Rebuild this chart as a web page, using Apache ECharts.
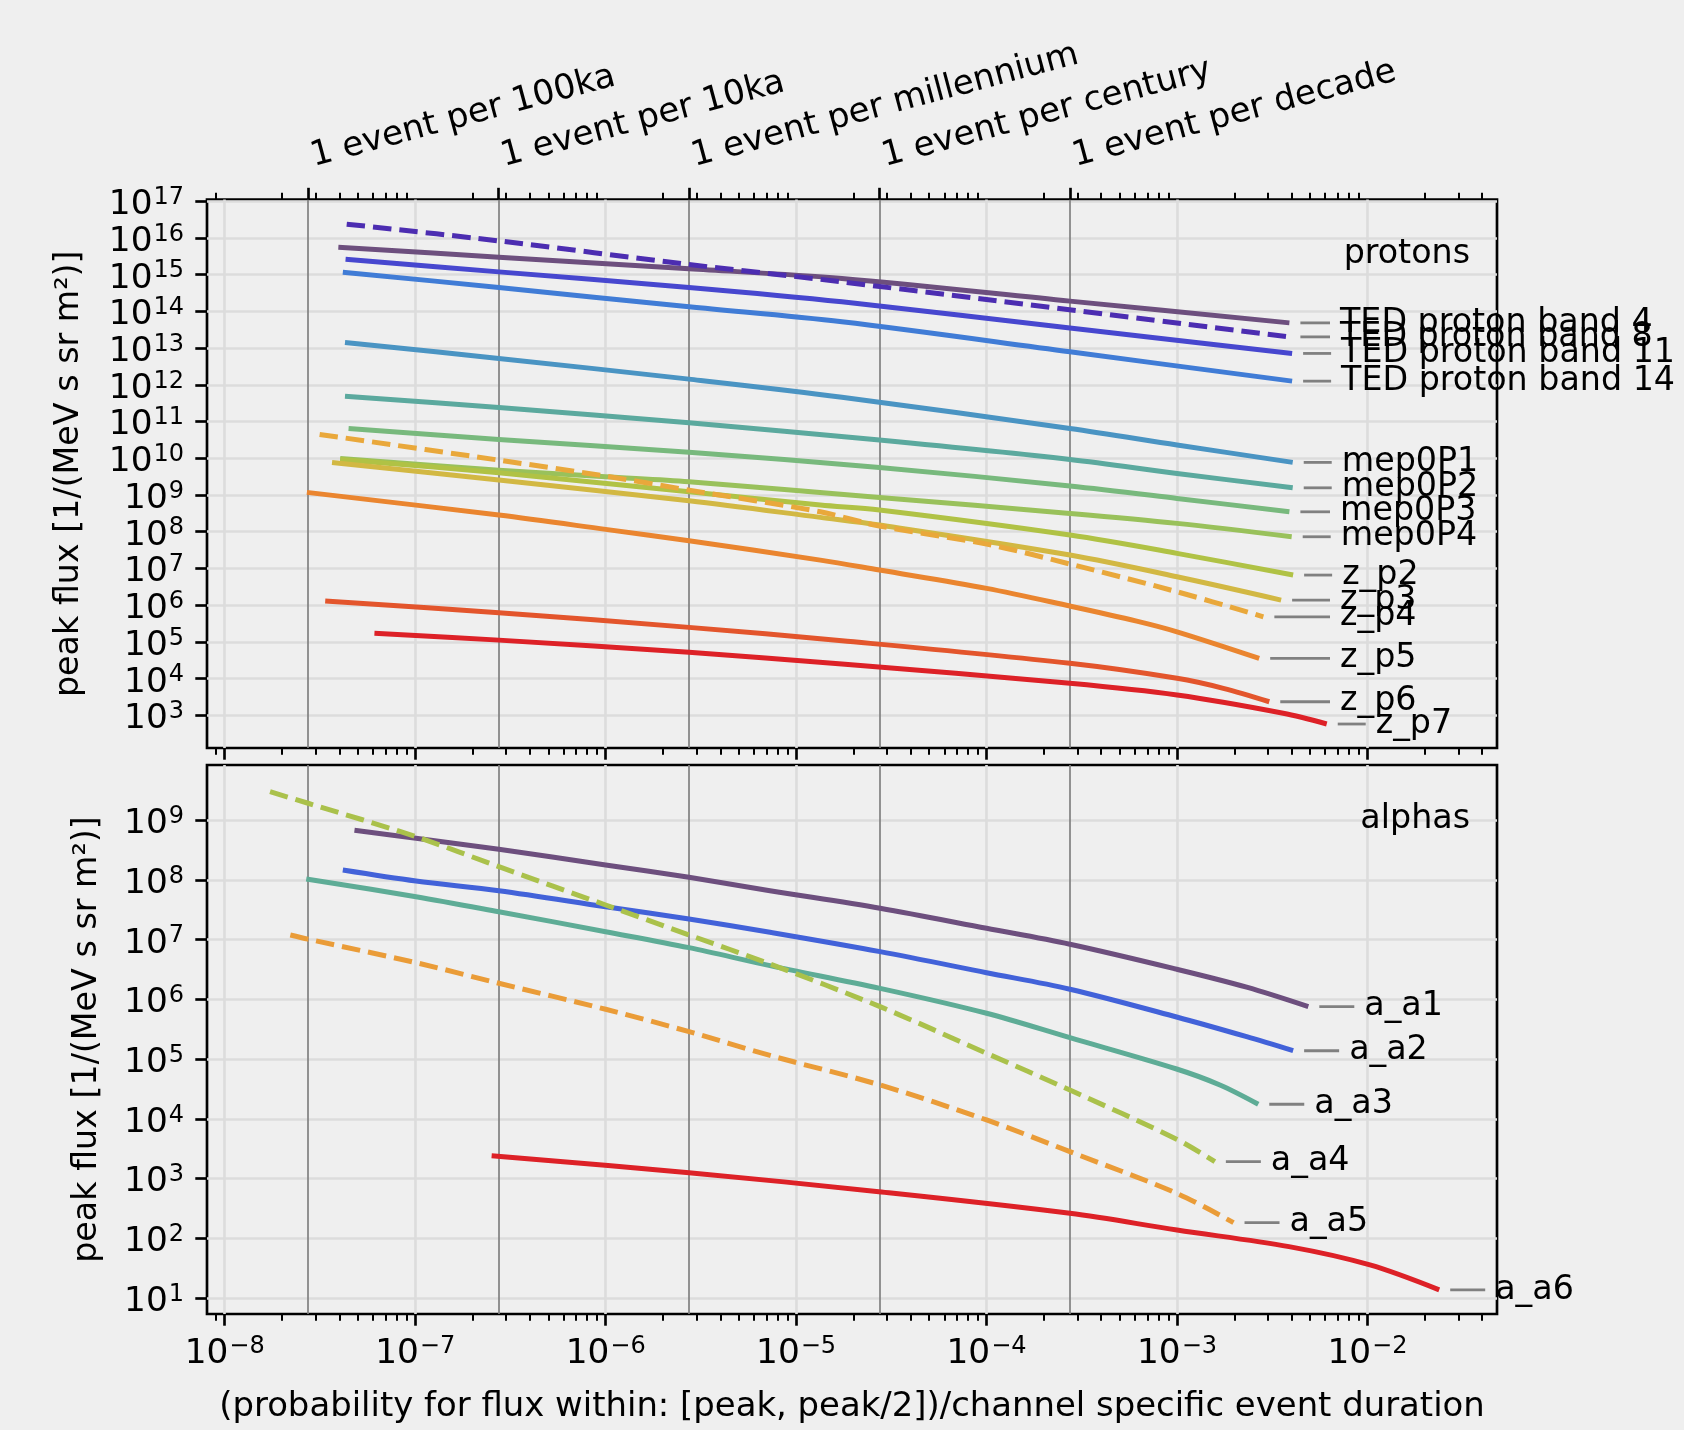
<!DOCTYPE html>
<html>
<head>
<meta charset="utf-8">
<script src="https://cdn.jsdelivr.net/npm/echarts/dist/echarts.min.js"></script>
<style>
html,body{margin:0;padding:0;background:#efefef;}
#chart{width:1684px;height:1430px;}
</style>
</head>
<body>
<div id="chart"></div>
<script>
// ================= DATA =================
// secondary (top) axis: event rates, x in 1/day
const eventYears = [1e5, 1e4, 1e3, 100, 10];
const eventLabels = ['1 event per 100ka', '1 event per 10ka', '1 event per millennium', '1 event per century', '1 event per decade'];
// tick exponents
const xMajorExp = [-8, -7, -6, -5, -4, -3, -2];
const protonYExp = [3, 4, 5, 6, 7, 8, 9, 10, 11, 12, 13, 14, 15, 16, 17];
const alphaYExp = [1, 2, 3, 4, 5, 6, 7, 8, 9];

// ---- protons ----
const tedBand4X  = [3.95e-8, 2.75e-7, 2.74e-6, 1.74e-5, 2.74e-4, 3.89e-3];
const tedBand4Y  = [5.60e15, 2.99e15, 1.44e15, 7.87e14, 1.90e14, 4.86e13];
const tedBand8X  = [4.37e-8, 2.75e-7, 2.74e-6, 1.74e-5, 3.89e-3];
const tedBand8Y  = [2.37e16, 8.30e15, 1.89e15, 6.35e14, 2.02e13];
const tedBand11X = [4.31e-8, 2.75e-7, 2.74e-6, 1.74e-5, 2.74e-4, 4.02e-3];
const tedBand11Y = [2.64e15, 1.19e15, 4.48e14, 1.82e14, 3.52e13, 7.16e12];
const tedBand14X = [4.17e-8, 2.75e-7, 2.74e-6, 1.74e-5, 2.74e-4, 4.02e-3];
const tedBand14Y = [1.17e15, 4.48e14, 1.33e14, 5.19e13, 7.91e12, 1.26e12];
const mep0P1X = [4.28e-8, 2.75e-7, 2.74e-6, 1.74e-5, 2.74e-4, 1.0e-3, 4.05e-3];
const mep0P1Y = [1.43e13, 5.24e12, 1.43e12, 4.62e11, 6.50e10, 2.31e10, 7.73e9];
const mep0P2X = [4.28e-8, 2.75e-7, 2.74e-6, 2.74e-5, 2.74e-4, 1.0e-3, 4.05e-3];
const mep0P2Y = [4.92e11, 2.43e11, 9.25e10, 3.13e10, 9.33e9, 3.87e9, 1.57e9];
const mep0P3X = [4.47e-8, 2.75e-7, 2.74e-6, 2.74e-5, 2.74e-4, 1.0e-3, 3.89e-3];
const mep0P3Y = [6.50e10, 3.27e10, 1.45e10, 5.65e9, 1.75e9, 8.09e8, 3.49e8];
const mep0P4X = [4.04e-8, 2.75e-7, 1.0e-6, 2.74e-6, 2.74e-5, 2.74e-4, 1.0e-3, 4.00e-3];
const mep0P4Y = [9.93e9, 4.76e9, 3.13e9, 2.29e9, 8.61e8, 3.16e8, 1.69e8, 7.30e7];
const zP2X = [4.04e-8, 2.75e-7, 2.74e-6, 1.34e-5, 2.74e-5, 2.74e-4, 1.0e-3, 4.07e-3];
const zP2Y = [9.33e9, 4.03e9, 1.22e9, 5.32e8, 3.89e8, 8.11e7, 2.58e7, 6.61e6];
const zP3X = [3.66e-8, 2.75e-7, 2.74e-6, 1.34e-5, 2.74e-5, 2.74e-4, 1.0e-3, 3.52e-3];
const zP3Y = [7.73e9, 2.55e9, 6.97e8, 2.46e8, 1.52e8, 2.32e7, 5.95e6, 1.38e6];
const zP4X = [3.15e-8, 2.75e-7, 1.0e-6, 2.74e-6, 1.34e-5, 2.74e-5, 1.0e-4, 2.74e-4, 1.0e-3, 2.84e-3];
const zP4Y = [4.47e10, 8.91e9, 3.27e9, 1.36e9, 3.49e8, 1.43e8, 4.61e7, 1.32e7, 2.32e6, 4.84e5];
const zP5X = [2.70e-8, 2.75e-7, 1.0e-6, 2.74e-6, 1.34e-5, 2.74e-5, 1.0e-4, 2.74e-4, 6.14e-4, 1.0e-3, 2.70e-3];
const zP5Y = [1.18e9, 2.84e8, 1.16e8, 5.67e7, 1.69e7, 9.04e6, 2.87e6, 9.48e5, 3.70e5, 1.89e5, 3.57e4];
const zP6X = [3.37e-8, 2.75e-7, 2.74e-6, 1.74e-5, 2.74e-4, 1.0e-3, 1.75e-3, 3.05e-3];
const zP6Y = [1.30e6, 6.22e5, 2.49e5, 1.08e5, 2.61e4, 1.02e4, 5.45e3, 2.35e3];
const zP7X = [6.11e-8, 2.75e-7, 2.74e-6, 1.74e-5, 2.74e-4, 1.0e-3, 3.61e-3, 6.11e-3];
const zP7Y = [1.71e5, 1.12e5, 5.20e4, 2.50e4, 7.46e3, 3.58e3, 1.14e3, 582];

// ---- alphas ----
const aA1X = [4.80e-8, 1.01e-7, 2.75e-7, 1.0e-6, 2.74e-6, 7.29e-6, 2.76e-5, 1.0e-4, 2.74e-4, 9.95e-4, 2.32e-3, 4.89e-3];
const aA1Y = [6.79e8, 4.99e8, 3.27e8, 1.78e8, 1.11e8, 6.62e7, 3.36e7, 1.55e7, 8.38e6, 3.20e6, 1.60e6, 7.55e5];
const aA2X = [4.17e-8, 1.01e-7, 2.75e-7, 1.0e-6, 2.74e-6, 7.29e-6, 2.76e-5, 1.0e-4, 2.74e-4, 9.95e-4, 2.32e-3, 4.07e-3];
const aA2Y = [1.47e8, 9.62e7, 6.62e7, 3.57e7, 2.22e7, 1.33e7, 6.30e6, 2.80e6, 1.48e6, 5.07e5, 2.37e5, 1.38e5];
const aA3X = [2.68e-8, 1.01e-7, 2.75e-7, 1.0e-6, 2.74e-6, 7.29e-6, 2.76e-5, 1.0e-4, 2.74e-4, 9.95e-4, 1.68e-3, 2.67e-3];
const aA3Y = [1.04e8, 5.25e7, 2.94e7, 1.36e7, 7.35e6, 3.67e6, 1.53e6, 5.85e5, 2.28e5, 6.82e4, 3.68e4, 1.75e4];
const aA4X = [1.73e-8, 2.74e-8, 1.01e-7, 2.75e-7, 1.0e-6, 2.74e-6, 7.29e-6, 2.76e-5, 1.0e-4, 2.74e-4, 9.95e-4, 1.58e-3];
const aA4Y = [3.01e9, 1.93e9, 5.31e8, 1.67e8, 3.81e7, 1.20e7, 3.92e6, 7.55e5, 1.25e5, 3.03e4, 4.54e3, 1.91e3];
const aA5X = [2.21e-8, 2.74e-8, 1.01e-7, 2.75e-7, 1.0e-6, 2.74e-6, 7.29e-6, 2.76e-5, 1.0e-4, 2.74e-4, 9.95e-4, 1.98e-3];
const aA5Y = [1.20e7, 1.02e7, 4.12e6, 1.86e6, 6.83e5, 2.88e5, 1.15e5, 3.68e4, 9.55e3, 2.81e3, 565, 182];
const aA6X = [2.52e-7, 2.74e-6, 2.72e-5, 2.74e-4, 1.0e-3, 3.87e-3, 1.03e-2, 2.38e-2];
const aA6Y = [2410, 1250, 601, 261, 137, 72.1, 35.6, 13.6];

// ================= STYLE / LAYOUT =================
const protonSeries = [
  {name: 'TED proton band 4',  x: tedBand4X,  y: tedBand4Y,  color: '#6d4f7e', dashed: false},
  {name: 'TED proton band 8',  x: tedBand8X,  y: tedBand8Y,  color: '#4c2db1', dashed: true},
  {name: 'TED proton band 11', x: tedBand11X, y: tedBand11Y, color: '#4747cf', dashed: false},
  {name: 'TED proton band 14', x: tedBand14X, y: tedBand14Y, color: '#407cd6', dashed: false},
  {name: 'mep0P1', x: mep0P1X, y: mep0P1Y, color: '#4a94c3', dashed: false},
  {name: 'mep0P2', x: mep0P2X, y: mep0P2Y, color: '#5ba99e', dashed: false},
  {name: 'mep0P3', x: mep0P3X, y: mep0P3Y, color: '#78b97d', dashed: false},
  {name: 'mep0P4', x: mep0P4X, y: mep0P4Y, color: '#99c15b', dashed: false},
  {name: 'z_p2', x: zP2X, y: zP2Y, color: '#b0c245', dashed: false},
  {name: 'z_p3', x: zP3X, y: zP3Y, color: '#d2b843', dashed: false},
  {name: 'z_p4', x: zP4X, y: zP4Y, color: '#e9a83b', dashed: true},
  {name: 'z_p5', x: zP5X, y: zP5Y, color: '#ea852f', dashed: false},
  {name: 'z_p6', x: zP6X, y: zP6Y, color: '#e3552c', dashed: false},
  {name: 'z_p7', x: zP7X, y: zP7Y, color: '#dd2127', dashed: false}
];
const alphaSeries = [
  {name: 'a_a1', x: aA1X, y: aA1Y, color: '#6d4f7e', dashed: false},
  {name: 'a_a2', x: aA2X, y: aA2Y, color: '#4262d9', dashed: false},
  {name: 'a_a3', x: aA3X, y: aA3Y, color: '#5eac96', dashed: false},
  {name: 'a_a4', x: aA4X, y: aA4Y, color: '#aac14b', dashed: true},
  {name: 'a_a5', x: aA5X, y: aA5Y, color: '#ea9c38', dashed: true},
  {name: 'a_a6', x: aA6X, y: aA6Y, color: '#dd2127', dashed: false}
];

const FONT = '"DejaVu Sans", sans-serif';
const FS = 33.3;
const GRIDC = '#dcdcdc';
const lg = Math.log10;
const XMIN = -8.093, XMAX = -1.32;
const P_YMIN = 2.112, P_YMAX = 17.046;
const A_YMIN = 0.73, A_YMAX = 9.926;

const eventX = eventYears.map(y => lg(1 / (365.25 * y)));
const xMinor = [];
for (let n = -9; n <= -2; n++) {
  for (let k = 2; k <= 9; k++) {
    const v = n + lg(k);
    if (v > XMIN && v < XMAX) xMinor.push(v);
  }
}
function nearestIdx(arr, v) {
  let best = 0;
  arr.forEach((a, i) => { if (Math.abs(a - v) < Math.abs(arr[best] - v)) best = i; });
  return best;
}
function powLabel(v) {
  const n = Math.round(v);
  return '{b|10}{s|' + (n < 0 ? '\u2212' + (-n) : String(n)) + '}';
}
const powRich = {
  b: {fontFamily: FONT, fontSize: 34.3, lineHeight: 39, color: '#000'},
  s: {fontFamily: FONT, fontSize: 24, lineHeight: 24, verticalAlign: 'top', color: '#000', padding: [0, 0, 0, 1]}
};
const MAJ = {color: '#000', width: 2.67};
const MIN = {color: '#000', width: 2};

function xa(grid, pos, extra) {
  return Object.assign({
    type: 'value', gridIndex: grid, position: pos, min: XMIN, max: XMAX,
    axisLine: {show: false, onZero: false},
    axisTick: {show: false},
    axisLabel: {show: false},
    splitLine: {show: false},
    minorTick: {show: false}, minorSplitLine: {show: false}
  }, extra);
}
const majorTicks = {show: true, customValues: xMajorExp, length: 11.7, lineStyle: MAJ};
const minorTicks = {show: true, customValues: xMinor, length: 6.7, lineStyle: MIN};
const gridLines = {show: true, lineStyle: {color: GRIDC, width: 2.67}};
const eventLines = {show: true, lineStyle: {color: '#808080', width: 1.7}};

const xAxes = [
  xa(0, 'bottom', {axisTick: majorTicks, splitLine: gridLines}),
  xa(0, 'bottom', {axisTick: minorTicks}),
  xa(0, 'top', {
    axisTick: {show: true, customValues: eventX, length: 11.7, lineStyle: MAJ},
    axisLabel: {show: true, customValues: eventX, rotate: -15, align: 'left', verticalAlign: 'bottom',
      margin: 23.5, padding: [0, 0, 0, 8], fontFamily: FONT, fontSize: 34.2, color: '#000',
      formatter: v => eventLabels[nearestIdx(eventX, v)]},
    splitLine: eventLines
  }),
  xa(0, 'top', {axisTick: minorTicks}),
  xa(1, 'bottom', {
    axisTick: majorTicks, splitLine: gridLines,
    axisLabel: {show: true, customValues: xMajorExp, formatter: powLabel, rich: powRich, margin: 21},
    name: '(probability for flux within: [peak, peak/2])/channel specific event duration',
    nameLocation: 'middle', nameGap: 76,
    nameTextStyle: {fontFamily: FONT, fontSize: 33.9, color: '#000'}
  }),
  xa(1, 'bottom', {axisTick: minorTicks}),
  xa(1, 'top', {axisTick: {show: false, customValues: eventX}, splitLine: eventLines})
];

function ya(grid, min, max, exps, gap) {
  return {
    type: 'value', gridIndex: grid, position: 'left', min: min, max: max,
    axisLine: {show: false, onZero: false},
    axisTick: {show: true, customValues: exps, length: 11.7, lineStyle: MAJ},
    axisLabel: {show: true, customValues: exps, formatter: powLabel, rich: powRich, margin: 23, padding: [8, 0, 0, 0]},
    splitLine: gridLines,
    minorTick: {show: false}, minorSplitLine: {show: false},
    name: 'peak flux [1/(MeV s sr m\u00b2)]', nameLocation: 'middle', nameGap: gap,
    nameTextStyle: {fontFamily: FONT, fontSize: FS, color: '#000'}
  };
}

function mkSeries(s, xi, yi) {
  return {
    type: 'line', name: s.name, xAxisIndex: xi, yAxisIndex: yi,
    data: s.x.map((x, i) => [lg(x), lg(s.y[i])]),
    showSymbol: false, symbol: 'none', silent: true, z: 3,
    smooth: 0.33,
    lineStyle: {color: s.color, width: 5, type: s.dashed ? [18.5, 8] : 'solid', cap: 'butt', join: 'round'},
    emphasis: {disabled: true}
  };
}

const series = [];
protonSeries.forEach(s => series.push(mkSeries(s, 0, 0)));
alphaSeries.forEach(s => series.push(mkSeries(s, 4, 1)));

const option = {
  animation: false,
  backgroundColor: '#efefef',
  textStyle: {fontFamily: FONT},
  grid: [
    {left: 207, top: 199.5, width: 1290, height: 548.5, show: true, borderColor: '#000', borderWidth: 2.67, backgroundColor: 'transparent', containLabel: false, outerBoundsMode: 'none'},
    {left: 207, top: 765, width: 1290, height: 549, show: true, borderColor: '#000', borderWidth: 2.67, backgroundColor: 'transparent', containLabel: false, outerBoundsMode: 'none'}
  ],
  xAxis: xAxes,
  yAxis: [ya(0, P_YMIN, P_YMAX, protonYExp, 121), ya(1, A_YMIN, A_YMAX, alphaYExp, 103)],
  series: series
};

const chart = echarts.init(document.getElementById('chart'), null, {renderer: 'canvas'});
chart.setOption(option);

// ---- end-of-line labels (gray connector + text) ----
const labelRules = {
  top: {xi: 0, yi: 0, alignPx: 1340, minText: 49},
  bottom: {xi: 4, yi: 1, alignPx: 0, minText: 56}
};
const gfx = [];
function addLabels(list, rule) {
  list.forEach(s => {
    const n = s.x.length - 1;
    const p = chart.convertToPixel({xAxisIndex: rule.xi, yAxisIndex: rule.yi}, [lg(s.x[n]), lg(s.y[n])]);
    const tx = Math.max(rule.alignPx, p[0] + rule.minText);
    gfx.push({type: 'line', silent: true, z: 50,
      shape: {x1: p[0] + 11, y1: p[1], x2: tx - 10, y2: p[1]},
      style: {stroke: '#808080', lineWidth: 2.8}});
    gfx.push({type: 'text', silent: true, z: 51, x: tx, y: p[1],
      style: {text: s.name, fontFamily: 'DejaVu Sans', fontSize: FS, fill: '#000',
        align: 'left', verticalAlign: 'middle', textAlign: 'left', textVerticalAlign: 'middle'}});
  });
}
addLabels(protonSeries, labelRules.top);
addLabels(alphaSeries, labelRules.bottom);
gfx.push({type: 'text', silent: true, z: 51, x: 1470, y: 254,
  style: {text: 'protons', fontFamily: 'DejaVu Sans', fontSize: FS, fill: '#000', align: 'right', verticalAlign: 'middle', textAlign: 'right', textVerticalAlign: 'middle'}});
gfx.push({type: 'text', silent: true, z: 51, x: 1470, y: 819,
  style: {text: 'alphas', fontFamily: 'DejaVu Sans', fontSize: FS, fill: '#000', align: 'right', verticalAlign: 'middle', textAlign: 'right', textVerticalAlign: 'middle'}});
chart.setOption({graphic: {elements: gfx}});
</script>
</body>
</html>
